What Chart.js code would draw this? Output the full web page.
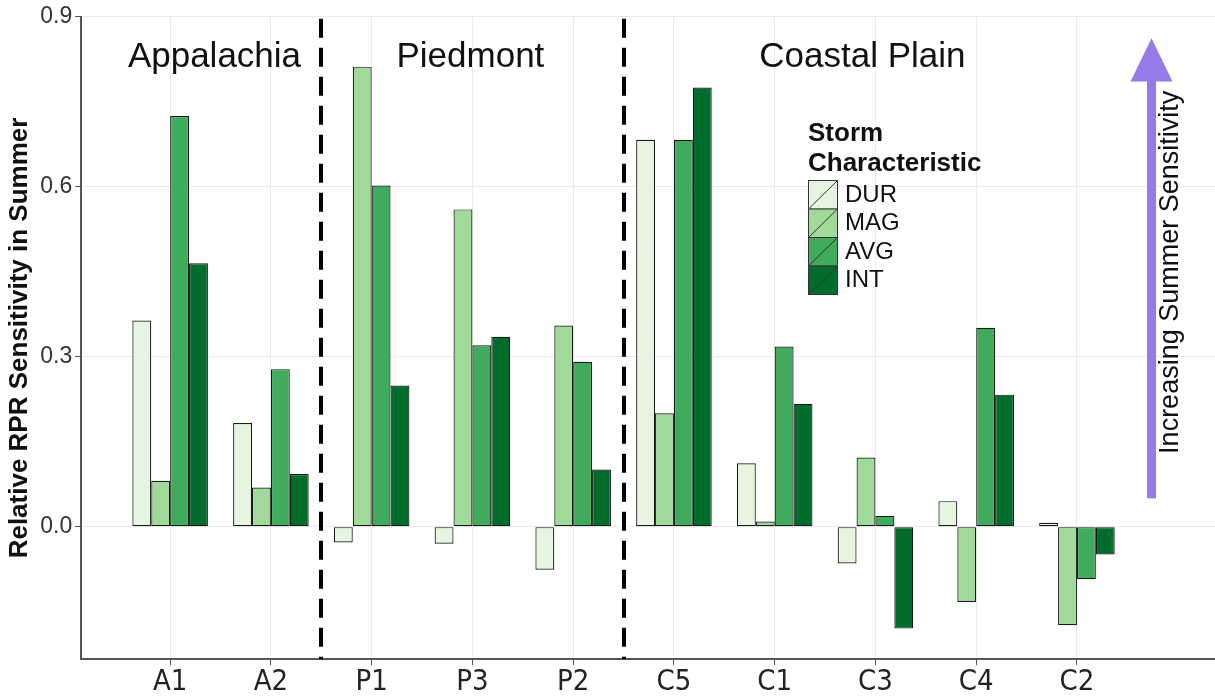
<!DOCTYPE html>
<html>
<head>
<meta charset="utf-8">
<script src="https://cdn.jsdelivr.net/npm/chart.js@4.4.1/dist/chart.umd.min.js"></script>
<style>
    html, body { margin: 0; padding: 0; background: #fff; }
    #wrap { width: 1215px; height: 700px; }
</style>
</head>
<body>
<div id="wrap"><canvas id="myChart" width="1215" height="700"></canvas></div>
<script>
// sites, grouped by region
const categories = ['A1', 'A2', 'P1', 'P3', 'P2', 'C5', 'C1', 'C3', 'C4', 'C2'];

// storm characteristic series
const seriesNames = ['DUR', 'MAG', 'AVG', 'INT'];
const durValues = [0.364, 0.183, -0.028, -0.030, -0.076, 0.683, 0.112, -0.065, 0.045, 0.007];
const magValues = [0.081, 0.069, 0.812, 0.560, 0.355, 0.200, 0.009, 0.122, -0.133, -0.174];
const avgValues = [0.725, 0.278, 0.602, 0.320, 0.291, 0.683, 0.318, 0.019, 0.351, -0.093];
const intValues = [0.465, 0.093, 0.249, 0.335, 0.101, 0.775, 0.217, -0.180, 0.233, -0.049];
const seriesColors = ['#e5f5e0', '#a1d99b', '#41ab5d', '#006d2c'];

// y axis ticks
const yTicks = [0.0, 0.3, 0.6, 0.9];

// regions
const regionNames = ['Appalachia', 'Piedmont', 'Coastal Plain'];
const regionCenters = [0.44, 2.98, 6.87];
const regionDividers = [1.5, 4.5];

const allValues = [durValues, magValues, avgValues, intValues];

//============================
//  overlay: dividers, region names, legend, arrow
//============================
const overlayPlugin = {
    id: 'overlay',
    afterDraw(chart) {
        const { ctx, chartArea, scales: { x, y } } = chart;
        ctx.save();

        // dashed dividers
        ctx.strokeStyle = '#000';
        ctx.lineWidth = 4;
        ctx.setLineDash([19, 10]);
        regionDividers.forEach(d => {
            const px = Math.round(x.getPixelForValue(d));
            ctx.beginPath();
            ctx.moveTo(px, chartArea.top + 2);
            ctx.lineTo(px, chartArea.bottom);
            ctx.stroke();
        });
        ctx.setLineDash([]);

        // region names
        ctx.fillStyle = '#111';
        ctx.font = '35px "Liberation Sans", Arial, sans-serif';
        ctx.textAlign = 'center';
        ctx.textBaseline = 'alphabetic';
        regionNames.forEach((r, i) => {
            ctx.fillText(r, x.getPixelForValue(regionCenters[i]), y.getPixelForValue(0.812));
        });

        // legend
        const lx = 808, ly = 180, kw = 29, kh = 28.5;
        ctx.textAlign = 'left';
        ctx.font = 'bold 26px "Liberation Sans", Arial, sans-serif';
        ctx.fillStyle = '#111';
        ctx.fillText('Storm', lx, 141);
        ctx.fillText('Characteristic', lx, 171);
        ctx.font = '24px "Liberation Sans", Arial, sans-serif';
        ctx.textBaseline = 'middle';
        seriesNames.forEach((s, i) => {
            const ky = ly + i * kh;
            ctx.fillStyle = seriesColors[i];
            ctx.fillRect(lx, ky, kw, kh);
            ctx.strokeStyle = '#333';
            ctx.lineWidth = 1;
            ctx.strokeRect(lx + 0.5, ky + 0.5, kw, kh);
            ctx.beginPath();
            ctx.moveTo(lx + 1, ky + kh);
            ctx.lineTo(lx + kw, ky + 1);
            ctx.stroke();
            ctx.fillStyle = '#111';
            ctx.fillText(s, lx + kw + 8, ky + kh / 2 + 1);
        });

        // arrow
        const ax = x.getPixelForValue(9.74);
        const yTail = y.getPixelForValue(0.05);
        const yBase = y.getPixelForValue(0.786);
        const yTip = y.getPixelForValue(0.862);
        ctx.fillStyle = 'rgb(150, 122, 232)';
        ctx.fillRect(ax - 4.5, yBase - 1, 9, yTail - yBase + 1);
        ctx.beginPath();
        ctx.moveTo(ax, yTip);
        ctx.lineTo(ax + 21, yBase);
        ctx.lineTo(ax - 21, yBase);
        ctx.closePath();
        ctx.fill();

        // arrow text
        ctx.translate(ax + 19, (yTail + yTip) / 2 + 4);
        ctx.rotate(-Math.PI / 2);
        ctx.fillStyle = '#111';
        ctx.font = '27px "Liberation Sans", Arial, sans-serif';
        ctx.textAlign = 'center';
        ctx.textBaseline = 'middle';
        ctx.fillText('Increasing Summer Sensitivity', 0, 0);

        ctx.restore();
    }
};

function buildDatasets() {
    return seriesNames.map((name, s) => ({
        label: name,
        data: categories.map((c, i) => ({ x: i, y: allValues[s][i] })),
        backgroundColor: seriesColors[s],
        borderColor: '#1a1a1a',
        borderWidth: 1.2,
        borderSkipped: false,
        categoryPercentage: 0.75,
        barPercentage: 1.0
    }));
}

const ctx = document.getElementById('myChart').getContext('2d');
const myChart = new Chart(ctx, {
    type: 'bar',
    data: { datasets: buildDatasets() },
    options: {
        responsive: false,
        animation: false,
        layout: { padding: { top: 0, right: 0, bottom: 0, left: 4 } },
        plugins: {
            legend: { display: false },
            tooltip: { enabled: false }
        },
        scales: {
            x: {
                type: 'linear',
                offset: false,
                min: -0.883,
                max: 10.37,
                afterBuildTicks: (scale) => {
                    scale.ticks = categories.map((c, i) => ({ value: i }));
                },
                ticks: {
                    callback: (v) => categories[v],
                    color: '#222',
                    font: { family: '"Liberation Sans Narrow", "DejaVu Sans Condensed", sans-serif', size: 29 },
                    padding: 0,
                    maxRotation: 0,
                    autoSkip: false
                },
                grid: {
                    offset: false,
                    color: '#ebebeb',
                    tickColor: '#555',
                    tickLength: 6,
                    lineWidth: 1
                },
                border: { color: '#555', width: 2 }
            },
            y: {
                min: -0.234,
                max: 0.9,
                afterBuildTicks: (scale) => {
                    scale.ticks = yTicks.map(v => ({ value: v }));
                },
                ticks: {
                    callback: (v) => v.toFixed(1),
                    color: '#333',
                    font: { family: '"Liberation Sans", Arial, sans-serif', size: 23 },
                    padding: 3
                },
                grid: {
                    color: '#ebebeb',
                    tickColor: '#555',
                    tickLength: 6,
                    lineWidth: 1
                },
                border: { color: '#555', width: 2 },
                title: {
                    display: true,
                    text: 'Relative RPR Sensitivity in Summer',
                    color: '#111',
                    font: { family: '"Liberation Sans", Arial, sans-serif', size: 26, weight: 'bold' },
                    padding: { top: 0, bottom: 2 }
                }
            }
        }
    },
    plugins: [overlayPlugin]
});
</script>
</body>
</html>
